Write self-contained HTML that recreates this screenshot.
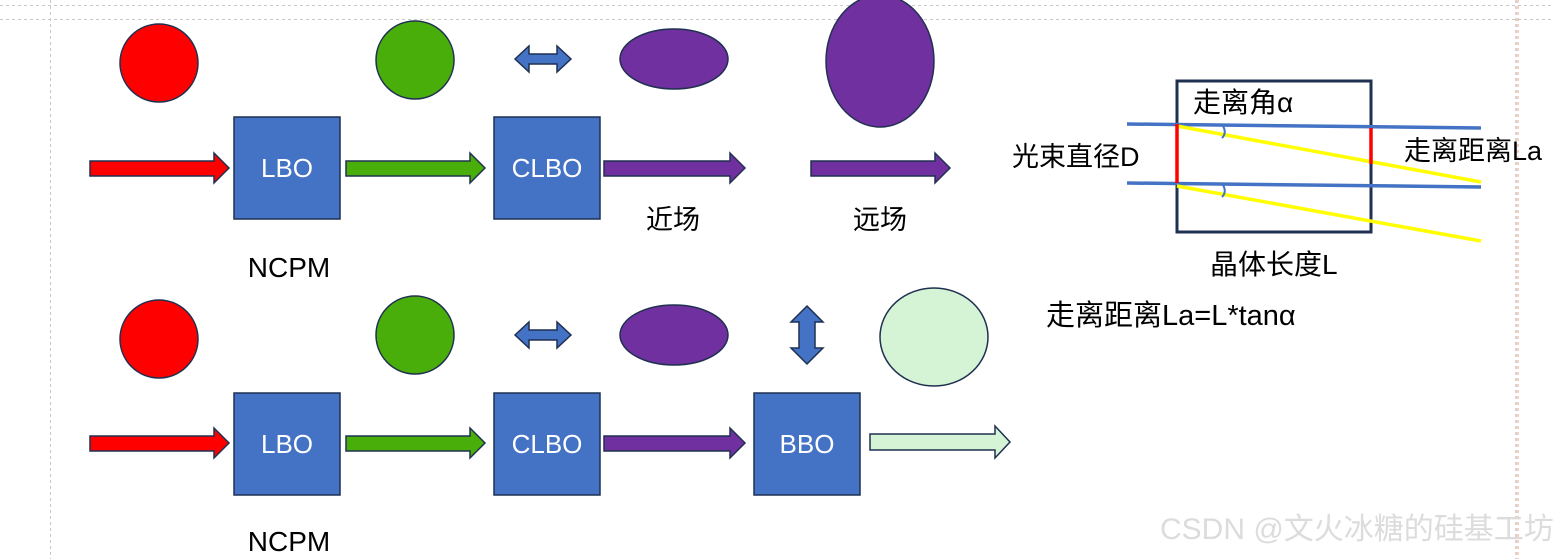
<!DOCTYPE html>
<html><head><meta charset="utf-8"><style>
html,body{margin:0;padding:0;background:#fff;}
svg{display:block;}
text{font-family:"Liberation Sans","Noto Sans CJK SC",sans-serif;}
</style></head><body>
<svg width="1554" height="559" viewBox="0 0 1554 559" xmlns="http://www.w3.org/2000/svg">
<g stroke="#c8c8c8" stroke-width="1" stroke-dasharray="3,3">
<line x1="0" y1="5.5" x2="1554" y2="5.5"/>
<line x1="0" y1="19.5" x2="1554" y2="19.5"/>
<line x1="50.5" y1="0" x2="50.5" y2="559"/>
<line x1="1516" y1="0" x2="1516" y2="559" stroke="#aaa"/>
</g>
<line x1="1518" y1="0" x2="1518" y2="559" stroke="#f0a080" stroke-width="1" stroke-dasharray="3,3"/>

<g stroke="#1f3050" stroke-width="1.5">
<circle cx="159" cy="63" r="39" fill="#ff0000"/>
<circle cx="415" cy="60" r="39" fill="#4aae0a"/>
<path d="M515,59 L529,46 L529,54 L557,54 L557,46 L571,59 L557,72 L557,64 L529,64 L529,72 Z" fill="#4472c4"/>
<ellipse cx="674" cy="59" rx="54" ry="30" fill="#7030a0"/>
<ellipse cx="880" cy="61" rx="54" ry="66" fill="#7030a0"/>
<rect x="234" y="117" width="106" height="102" fill="#4472c4"/>
<rect x="494" y="117" width="106" height="102" fill="#4472c4"/>
<path d="M90,161 L214,161 L214,153 L229,168 L214,183 L214,176 L90,176 Z" fill="#ff0000"/>
<path d="M346,161 L470,161 L470,153 L485,168 L470,183 L470,176 L346,176 Z" fill="#4aae0a"/>
<path d="M604,161 L730,161 L730,153 L745,168 L730,183 L730,176 L604,176 Z" fill="#7030a0"/>
<path d="M811,161 L935,161 L935,153 L950,168 L935,183 L935,176 L811,176 Z" fill="#7030a0"/>
<circle cx="159" cy="339" r="39" fill="#ff0000"/>
<circle cx="415" cy="335" r="39" fill="#4aae0a"/>
<path d="M515,335 L529,322 L529,330 L557,330 L557,322 L571,335 L557,348 L557,340 L529,340 L529,348 Z" fill="#4472c4"/>
<ellipse cx="674" cy="335" rx="54" ry="30" fill="#7030a0"/>
<path d="M807,306 L823,322 L815,322 L815,348 L823,348 L807,364 L791,348 L799,348 L799,322 L791,322 Z" fill="#4472c4"/>
<ellipse cx="934" cy="337" rx="54" ry="49" fill="#d5f3d5"/>
<rect x="234" y="393" width="106" height="102" fill="#4472c4"/>
<rect x="494" y="393" width="106" height="102" fill="#4472c4"/>
<rect x="754" y="393" width="106" height="102" fill="#4472c4"/>
<path d="M90,436 L214,436 L214,428 L229,443 L214,458 L214,451 L90,451 Z" fill="#ff0000"/>
<path d="M346,436 L470,436 L470,428 L485,443 L470,458 L470,451 L346,451 Z" fill="#4aae0a"/>
<path d="M604,436 L730,436 L730,428 L745,443 L730,458 L730,451 L604,451 Z" fill="#7030a0"/>
<path d="M870,434 L995,434 L995,426 L1010,442 L995,458 L995,450 L870,450 Z" fill="#d5f3d5"/>
</g>

<g fill="#fff" font-size="26" text-anchor="middle">
<text x="287" y="177">LBO</text>
<text x="547" y="177">CLBO</text>
<text x="287" y="453">LBO</text>
<text x="547" y="453">CLBO</text>
<text x="807" y="453">BBO</text>
</g>
<g fill="#000" text-anchor="middle">
<text x="289" y="277" font-size="28">NCPM</text>
<text x="289" y="551" font-size="28">NCPM</text>
<text x="673" y="229" font-size="27">近场</text>
<text x="880" y="229" font-size="27">远场</text>
</g>

<rect x="1177" y="81" width="194" height="151" fill="none" stroke="#1f3050" stroke-width="3"/>
<line x1="1127" y1="124" x2="1481" y2="128" stroke="#4472c4" stroke-width="3.5"/>
<line x1="1127" y1="183" x2="1481" y2="187" stroke="#4472c4" stroke-width="3.5"/>
<line x1="1177" y1="126" x2="1481" y2="182" stroke="#ffff00" stroke-width="3.5"/>
<line x1="1177" y1="186" x2="1481" y2="241" stroke="#ffff00" stroke-width="3.5"/>
<line x1="1177" y1="124" x2="1177" y2="183" stroke="#ff0000" stroke-width="3.5"/>
<line x1="1371" y1="128" x2="1371" y2="164" stroke="#ff0000" stroke-width="3.5"/>
<path d="M1223,126 Q1227,133 1222,138" fill="none" stroke="#4472c4" stroke-width="2"/>
<path d="M1223,185 Q1227,192 1222,197" fill="none" stroke="#4472c4" stroke-width="2"/>
<g fill="#000">
<text x="1012" y="166" font-size="27">光束直径D</text>
<text x="1193" y="112" font-size="28">走离角α</text>
<text x="1404" y="160" font-size="27">走离距离La</text>
<text x="1210" y="274" font-size="28">晶体长度L</text>
<text x="1046" y="325" font-size="29">走离距离La=L*tanα</text>
</g>
<text x="1160" y="539" font-size="30" fill="#dcdcdc">CSDN @文火冰糖的硅基工坊</text>
</svg>
</body></html>
